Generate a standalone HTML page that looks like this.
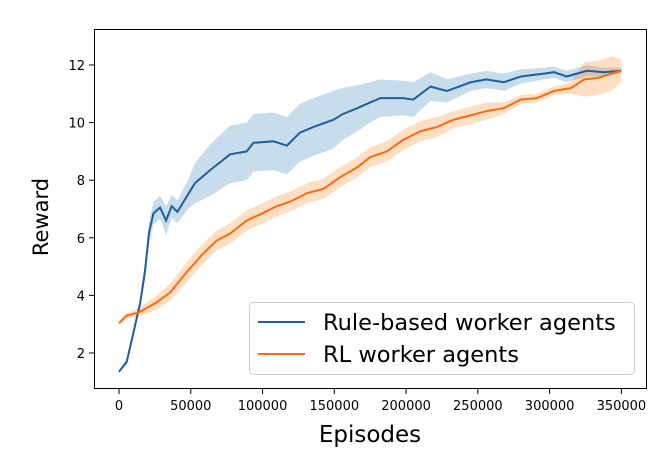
<!DOCTYPE html>
<html><head><meta charset="utf-8"><style>
body{margin:0;background:#fff}
svg text{font-family:"DejaVu Sans","Liberation Sans",sans-serif;fill:#000}
</style></head><body>
<svg id="c" width="664" height="465"></svg>
<script>
const episodes=[0,5400,10000,14600,18000,21000,24000,28600,32800,36700,40700,48000,53000,63500,77400,89000,93700,107600,117000,126000,135500,149500,156000,166000,175000,182000,198000,205000,217000,228600,245000,256000,268000,280000,296000,303000,312000,326000,338000,350000];
const ruleMean=[1.35,1.7,2.7,3.7,4.8,6.2,6.85,7.05,6.6,7.1,6.9,7.5,7.9,8.35,8.9,9.0,9.3,9.35,9.2,9.65,9.85,10.1,10.3,10.5,10.7,10.85,10.85,10.8,11.25,11.1,11.4,11.5,11.4,11.6,11.7,11.75,11.6,11.8,11.75,11.8];
const ruleSpread=[0.05,0.1,0.15,0.2,0.3,0.4,0.4,0.4,0.5,0.4,0.4,0.5,0.7,0.9,1.0,1.0,1.0,1.0,1.0,1.0,1.0,1.0,0.9,0.8,0.7,0.65,0.6,0.6,0.5,0.4,0.3,0.3,0.3,0.25,0.2,0.2,0.2,0.2,0.15,0.1];
const rlEpisodes=[0,5400,13500,26000,35600,47000,58600,68000,77400,89000,100000,110000,119000,131000,142500,154000,166000,175000,186600,198000,210000,221600,233000,245000,256000,268000,280000,291000,303000,315000,324000,333500,343000,350000];
const rlMean=[3.03,3.3,3.4,3.75,4.1,4.8,5.45,5.9,6.15,6.6,6.85,7.1,7.25,7.55,7.7,8.1,8.45,8.8,9.0,9.4,9.7,9.85,10.1,10.25,10.4,10.5,10.8,10.85,11.1,11.2,11.5,11.55,11.7,11.8];
const rlSpread=[0.05,0.1,0.15,0.25,0.3,0.35,0.35,0.35,0.35,0.35,0.35,0.35,0.35,0.35,0.35,0.35,0.35,0.35,0.35,0.35,0.35,0.35,0.3,0.3,0.3,0.2,0.15,0.15,0.15,0.2,0.6,0.6,0.6,0.4];
const xTicks=[0,50000,100000,150000,200000,250000,300000,350000];
const yTicks=[2,4,6,8,10,12];
const NS='http://www.w3.org/2000/svg';
const svg=document.getElementById('c');
const X=v=>119+v*(502.4/350000);
const Y=v=>65+(12-v)*28.8;
function el(t,a,p){const e=document.createElementNS(NS,t);for(const k in a)e.setAttribute(k,a[k]);(p||svg).appendChild(e);return e;}
function band(xs,m,s,fill,name){
  let d='M'+xs.map((x,i)=>X(x)+','+Y(m[i]+s[i])).join('L');
  for(let i=xs.length-1;i>=0;i--)d+='L'+X(xs[i])+','+Y(m[i]-s[i]);
  const p=el('path',{d:d+'Z',fill:fill,'fill-opacity':0.25,stroke:'none'});
  
  
}
function line(xs,m,col,name){
  const p=el('path',{d:'M'+xs.map((x,i)=>X(x)+','+Y(m[i])).join('L'),fill:'none',stroke:col,'stroke-width':2});
  
  
}
band(episodes,ruleMean,ruleSpread,'#1f77b4','rule-based-band');
band(rlEpisodes,rlMean,rlSpread,'#ff7f0e','rl-band');
line(episodes,ruleMean,'#1f5fa0','rule-based-line');
line(rlEpisodes,rlMean,'#ff6a10','rl-line');
const fr=el('rect',{x:94.5,y:29.5,width:552,height:359,fill:'none',stroke:'#000','stroke-width':1});


xTicks.forEach(v=>{
  el('line',{x1:X(v),x2:X(v),y1:389,y2:394,stroke:'#000'});
  const t=el('text',{x:X(v),y:410,'text-anchor':'middle','font-size':13});
  t.textContent=v;
  
  
});
yTicks.forEach(v=>{
  el('line',{x1:89,x2:94,y1:Y(v),y2:Y(v),stroke:'#000'});
  const t=el('text',{x:85,y:Y(v)+5,'text-anchor':'end','font-size':13});
  t.textContent=v;
  
  
});
const xl=el('text',{x:370,y:442,'text-anchor':'middle','font-size':23});
xl.textContent='Episodes';


const yl=el('text',{x:0,y:0,'text-anchor':'middle','font-size':21,transform:'translate(48,217) rotate(-90)'});
yl.textContent='Reward';


const lg=el('g',{});


el('rect',{x:249.5,y:302.5,width:385,height:72,rx:4,fill:'#fff','fill-opacity':0.8,stroke:'#ccc'},lg);
[['Rule-based worker agents','#1f5fa0',322],['RL worker agents','#ff6a10',354]].forEach(([s,c,y])=>{
  el('line',{x1:258,x2:305,y1:y,y2:y,stroke:c,'stroke-width':2},lg);
  const t=el('text',{x:323,y:y+8,'font-size':22.5},lg);
  t.textContent=s;
  
  
});
</script>
</body></html>
